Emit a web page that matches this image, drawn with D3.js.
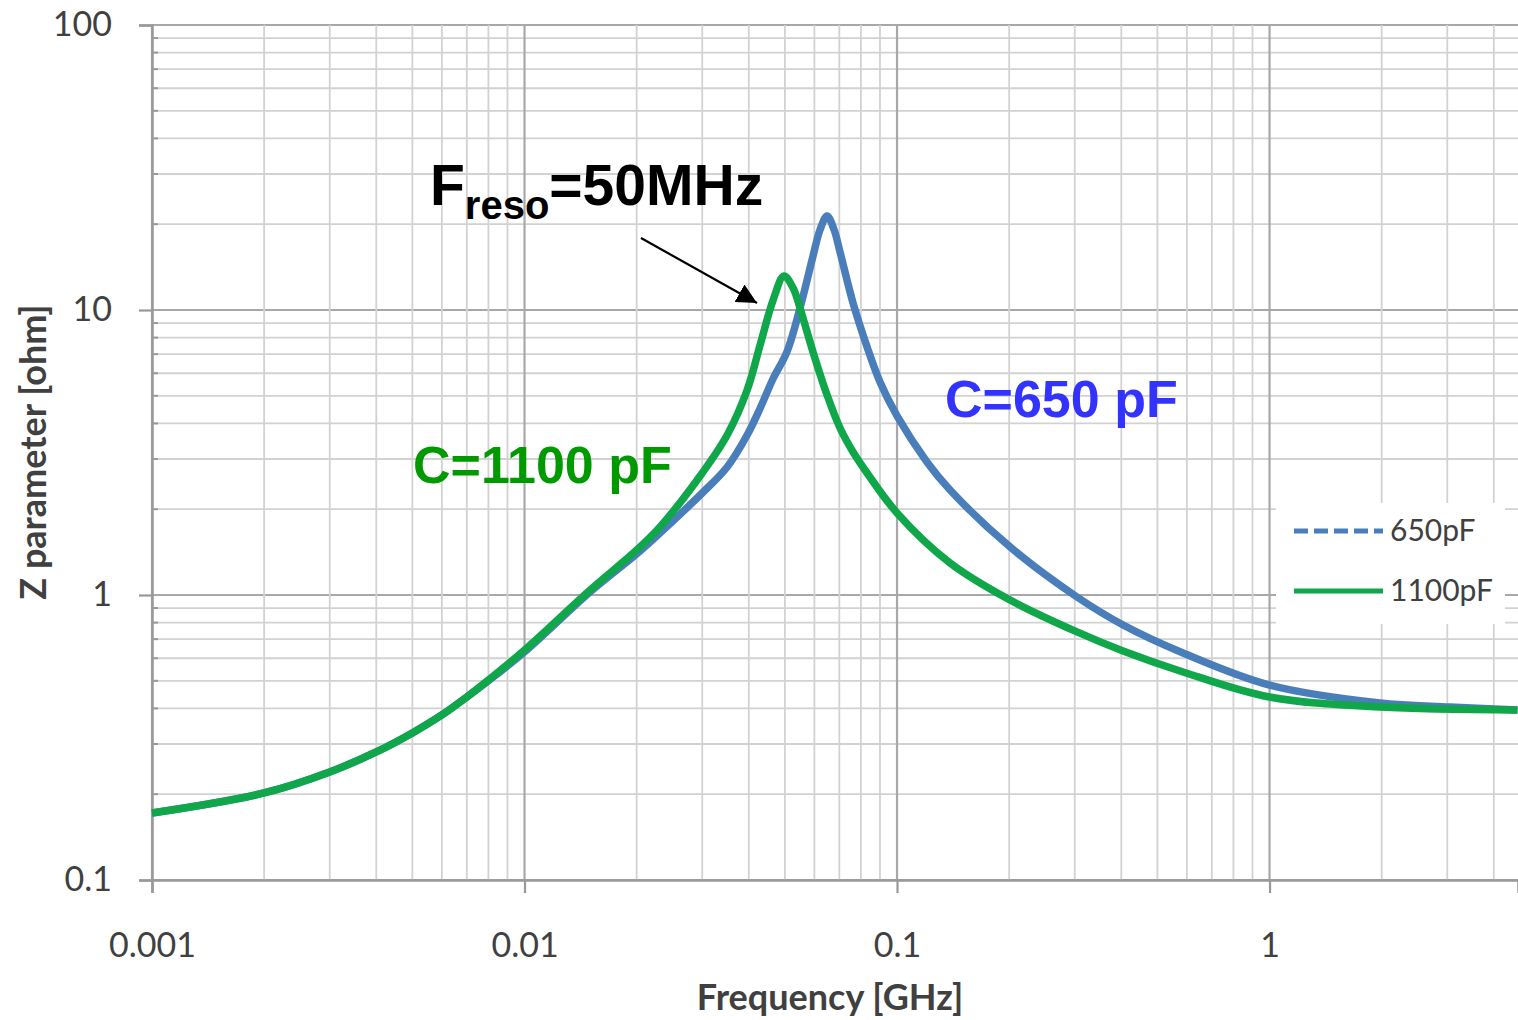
<!DOCTYPE html>
<html><head><meta charset="utf-8">
<script src="https://cdn.jsdelivr.net/npm/d3@7"></script>
<style>body{margin:0;background:#fff}svg{display:block}</style>
</head><body>
<svg id="chart" width="1518" height="1020"></svg>
<script>
// ---- data ----
const freq1100 = [0.001,0.002,0.003,0.004,0.005,0.006,0.007,0.008,0.01,0.015,0.02,0.0231,0.03,0.035,0.0396,0.0429,0.0465,0.0497,0.0526,0.0549,0.0595,0.0649,0.0703,0.0762,0.0831,0.1,0.1388,0.2011,0.3042,0.4044,0.5859,1,1.98,4.63];
const z1100pF  = [0.1718,0.202,0.2393,0.2813,0.328,0.3793,0.4386,0.5033,0.641,1.041,1.438,1.733,2.68,3.642,5.241,7.54,10.84,13.16,11.95,10.16,7.12,5.03,3.855,3.175,2.68,1.94,1.295,0.96,0.742,0.636,0.537,0.4386,0.4046,0.395];
const freq650  = [0.001,0.002,0.003,0.004,0.005,0.006,0.007,0.008,0.01,0.015,0.02,0.0231,0.03,0.035,0.0396,0.0429,0.0465,0.0506,0.0549,0.0595,0.0621,0.0649,0.0678,0.0703,0.0762,0.0831,0.09,0.1,0.1203,0.1388,0.2011,0.3042,0.4044,0.5859,1,1.98,3.05,4.63];
const z650pF   = [0.1718,0.202,0.2393,0.2813,0.328,0.3793,0.4386,0.50,0.631,1.025,1.393,1.65,2.28,2.813,3.642,4.52,5.75,7.12,10.16,15.47,19.09,21.37,19.09,15.98,10.58,7.42,5.59,4.25,2.93,2.335,1.474,0.984,0.785,0.626,0.483,0.418,0.4046,0.395];
const xMajorTicks = [0.001,0.01,0.1,1];
const xTickLabels = ["0.001","0.01","0.1","1"];
const yMajorTicks = [0.1,1,10,100];
const yTickLabels = ["0.1","1","10","100"];
const seriesNames = ["650pF","1100pF"];

// ---- setup ----
const svg = d3.select("#chart");
const x = d3.scaleLog().domain([0.001,4.645]).range([152,1518]);
const y = d3.scaleLog().domain([0.1,100]).range([880,25]);

const minorX = [];
for (let d=-3; d<=0; d++) for (let k=1;k<=9;k++){const v=k*Math.pow(10,d); if(v<=4.645) minorX.push(+v.toPrecision(3));}
const minorY = [];
for (let d=-1; d<=1; d++) for (let k=1;k<=9;k++){minorY.push(+(k*Math.pow(10,d)).toPrecision(3));}
minorY.push(100);

const grid = svg.append("g");
grid.selectAll(".gy").data(minorY).join("line")
  .attr("x1",152).attr("x2",1518).attr("y1",d=>y(d)).attr("y2",d=>y(d))
  .attr("stroke",d=>yMajorTicks.includes(d)?"#a8a8a8":"#d2d2d2")
  .attr("stroke-width",d=>yMajorTicks.includes(d)?2.2:1.8);
grid.selectAll(".gx").data(minorX).join("line")
  .attr("y1",25).attr("y2",880).attr("x1",d=>x(d)).attr("x2",d=>x(d))
  .attr("stroke",d=>xMajorTicks.includes(d)?"#a8a8a8":"#d2d2d2")
  .attr("stroke-width",d=>xMajorTicks.includes(d)?2.2:1.8);

// axes
const fontTick = "Lato, 'Open Sans', sans-serif";
const yAxis = d3.axisLeft(y).tickValues(yMajorTicks).tickFormat((d,i)=>yTickLabels[i]).tickSize(13).tickPadding(27);
const gy = svg.append("g").attr("transform","translate(152,0)").call(yAxis);
gy.select(".domain").attr("stroke","#999").attr("stroke-width",2.5);
gy.selectAll(".tick line").attr("stroke","#999").attr("stroke-width",2.2);
gy.selectAll("text").attr("font-family",fontTick).attr("font-size",34).attr("fill","#404040");
const xAxis = d3.axisBottom(x).tickValues(xMajorTicks).tickFormat((d,i)=>xTickLabels[i]).tickSize(13).tickPadding(40);
const gx = svg.append("g").attr("transform","translate(0,880)").call(xAxis);
gx.select(".domain").attr("stroke","#999").attr("stroke-width",2.5);
gx.selectAll(".tick line").attr("stroke","#999").attr("stroke-width",2.2);
gx.selectAll("text").attr("font-family",fontTick).attr("font-size",34).attr("fill","#404040");

// minor inside ticks on y axis
svg.append("g").selectAll("line").data(minorY.filter(d=>!yMajorTicks.includes(d))).join("line")
  .attr("x1",152).attr("x2",158).attr("y1",d=>y(d)).attr("y2",d=>y(d)).attr("stroke","#999").attr("stroke-width",2);

// axis titles
svg.append("text").attr("x",830).attr("y",1010).attr("text-anchor","middle")
  .attr("font-family",fontTick).attr("font-weight","bold").attr("font-size",36).attr("fill","#404040")
  .text("Frequency [GHz]");
svg.append("text").attr("transform","translate(46,452) rotate(-90)").attr("text-anchor","middle")
  .attr("font-family",fontTick).attr("font-weight","bold").attr("font-size",36).attr("fill","#404040")
  .text("Z parameter [ohm]");

// lines
const line650 = d3.line().x((d,i)=>x(freq650[i])).y(d=>y(d)).curve(d3.curveCatmullRom.alpha(0.5));
const line1100 = d3.line().x((d,i)=>x(freq1100[i])).y(d=>y(d)).curve(d3.curveCatmullRom.alpha(0.5));
const plot = svg.append("g");
plot.append("path").datum(z650pF).attr("d",line650).attr("fill","none").attr("stroke","#4a7ebb").attr("stroke-width",7.5).attr("stroke-linejoin","round");
plot.append("path").datum(z1100pF).attr("d",line1100).attr("fill","none").attr("stroke","#10a64a").attr("stroke-width",7.5).attr("stroke-linejoin","round");

// legend
const lg = svg.append("g");
lg.append("rect").attr("x",1276).attr("y",503).attr("width",229).attr("height",121).attr("fill","#fff");
lg.append("line").attr("x1",1294).attr("x2",1383).attr("y1",531).attr("y2",531).attr("stroke","#4a7ebb").attr("stroke-width",5).attr("stroke-dasharray","14,6");
lg.append("line").attr("x1",1294).attr("x2",1383).attr("y1",591).attr("y2",591).attr("stroke","#10a64a").attr("stroke-width",5);
lg.append("text").attr("x",1390).attr("y",541).attr("font-family",fontTick).attr("font-size",30).attr("fill","#404040").text(seriesNames[0]);
lg.append("text").attr("x",1390).attr("y",601).attr("font-family",fontTick).attr("font-size",30).attr("fill","#404040").text(seriesNames[1]);

// annotations
const ann = svg.append("g").attr("font-family","'Liberation Sans', Arial, sans-serif").attr("font-weight","bold");
const t = ann.append("text").attr("x",430).attr("y",205).attr("font-size",57).attr("fill","#000");
t.append("tspan").text("F");
t.append("tspan").attr("font-size",40).attr("dy",14).text("reso");
t.append("tspan").attr("dy",-14).text("=50MHz");
ann.append("text").attr("x",413).attr("y",483).attr("font-size",52).attr("fill","#009a00").text("C=1100 pF");
ann.append("text").attr("x",945).attr("y",417).attr("font-size",52).attr("fill","#3333ff").text("C=650 pF");

// arrow
svg.append("defs").append("marker").attr("id","ah").attr("viewBox","0 0 10 10").attr("refX",10).attr("refY",5)
  .attr("markerWidth",20).attr("markerHeight",20).attr("markerUnits","userSpaceOnUse").attr("orient","auto")
  .append("path").attr("d","M0,0L10,5L0,10z").attr("fill","#000");
svg.append("line").attr("x1",641).attr("y1",238).attr("x2",757).attr("y2",303).attr("stroke","#000").attr("stroke-width",2.2).attr("marker-end","url(#ah)");
</script>
</body></html>
